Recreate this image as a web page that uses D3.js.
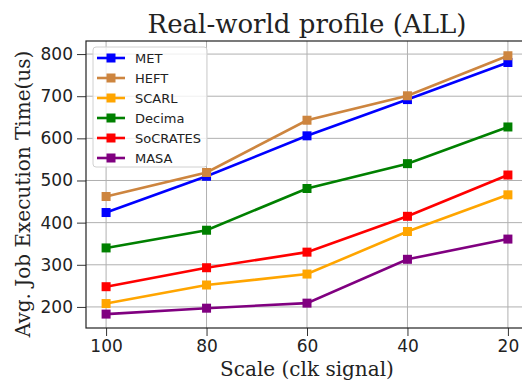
<!DOCTYPE html>
<html>
<head>
<meta charset="utf-8">
<script src="https://cdn.jsdelivr.net/npm/d3@7"></script>
<style>
  body { margin: 0; background: #fff; }
  svg { display: block; }
</style>
</head>
<body>
<div id="chart"></div>
<script>
// chart data
var scales = ["100", "80", "60", "40", "20"];
var names = ["MET", "HEFT", "SCARL", "Decima", "SoCRATES", "MASA"];
var colors = ["#0000ff", "#cd853f", "#ffa500", "#008000", "#ff0000", "#800080"];
var met = [424, 510, 606, 692, 780];
var heft = [462, 519, 643, 701, 796];
var scarl = [208, 252, 278, 379, 466];
var decima = [340, 382, 481, 540, 627];
var socrates = [248, 293, 330, 415, 513];
var masa = [183, 197, 209, 313, 361];
var yTicks = [200, 300, 400, 500, 600, 700, 800];

var series = [met, heft, scarl, decima, socrates, masa];

var W = 522, H = 383;
var svg = d3.select("#chart").append("svg")
    .attr("width", W).attr("height", H);

// plot area (right side runs past the picture edge, as in the reference)
var pL = 86, pR = 528, pT = 41, pB = 328;

var x = d3.scaleLinear().domain([-0.2, 4.2]).range([pL, pR]);
var y = d3.scaleLinear().domain([150, 831]).range([pB, pT]);

// grid
var grid = svg.append("g");
grid.selectAll(".gx").data(scales).enter().append("line")
    .attr("x1", function(d, i) { return x(i); })
    .attr("x2", function(d, i) { return x(i); })
    .attr("y1", pT).attr("y2", pB)
    .style("stroke", "#b0b0b0").style("stroke-width", 1);
grid.selectAll(".gy").data(yTicks).enter().append("line")
    .attr("x1", pL).attr("x2", pR)
    .attr("y1", function(d) { return y(d); })
    .attr("y2", function(d) { return y(d); })
    .style("stroke", "#b0b0b0").style("stroke-width", 1);

// lines + markers
var line = d3.line()
    .x(function(d, i) { return x(i); })
    .y(function(d) { return y(d); });

var ms = 9;
series.forEach(function(s, k) {
    var g = svg.append("g");
    g.append("path").datum(s)
        .attr("d", line)
        .style("fill", "none")
        .style("stroke", colors[k])
        .style("stroke-width", 2.6);
    g.selectAll("rect").data(s).enter().append("rect")
        .attr("x", function(d, i) { return x(i) - ms / 2; })
        .attr("y", function(d) { return y(d) - ms / 2; })
        .attr("width", ms).attr("height", ms)
        .style("fill", colors[k]);
});

// axes
var xAxis = d3.axisBottom(x)
    .tickValues(d3.range(scales.length))
    .tickFormat(function(d) { return scales[d]; })
    .tickSize(8).tickPadding(4);
var yAxis = d3.axisLeft(y)
    .tickValues(yTicks)
    .tickSize(9).tickPadding(4);

var gx = svg.append("g").attr("transform", "translate(0," + pB + ")").call(xAxis);
var gy = svg.append("g").attr("transform", "translate(" + pL + ",0)").call(yAxis);
[gx, gy].forEach(function(g) {
    g.select(".domain").remove();
    g.selectAll("text").style("font-family", "DejaVu Sans").style("font-size", "17px").style("fill", "#222");
    g.selectAll("line").style("stroke", "#333").style("stroke-width", 1);
});

// frame
svg.append("rect")
    .attr("x", pL).attr("y", pT)
    .attr("width", pR - pL).attr("height", pB - pT)
    .style("fill", "none").style("stroke", "#222").style("stroke-width", 1.2);

// title and labels
svg.append("text")
    .attr("x", (pL + pR) / 2).attr("y", 33)
    .attr("text-anchor", "middle")
    .style("font-family", "DejaVu Serif").style("font-size", "26px")
    .style("fill", "#222")
    .text("Real-world profile (ALL)");

svg.append("text")
    .attr("x", (pL + pR) / 2).attr("y", 376)
    .attr("text-anchor", "middle")
    .style("font-family", "DejaVu Serif").style("font-size", "20px")
    .style("fill", "#222")
    .text("Scale (clk signal)");

svg.append("text")
    .attr("transform", "translate(30,194) rotate(-90)")
    .attr("text-anchor", "middle")
    .style("font-family", "DejaVu Serif").style("font-size", "20px")
    .style("fill", "#222")
    .text("Avg. Job Execution Time(us)");

// legend
var lg = svg.append("g").attr("transform", "translate(93,47)");
lg.append("rect")
    .attr("width", 114).attr("height", 120).attr("rx", 3)
    .style("fill", "rgba(255,255,255,0.8)")
    .style("stroke", "#d0d0d0").style("stroke-width", 1);
var item = lg.selectAll(".item").data(names).enter().append("g")
    .attr("transform", function(d, i) { return "translate(0," + (11 + i * 20) + ")"; });
item.append("line")
    .attr("x1", 4).attr("x2", 32).attr("y1", 0).attr("y2", 0)
    .style("stroke", function(d, i) { return colors[i]; })
    .style("stroke-width", 2.6);
item.append("rect")
    .attr("x", 18 - ms / 2).attr("y", -ms / 2)
    .attr("width", ms).attr("height", ms)
    .style("fill", function(d, i) { return colors[i]; });
item.append("text")
    .attr("x", 42).attr("y", 0).attr("dy", "0.35em")
    .style("font-family", "DejaVu Sans").style("font-size", "13px")
    .style("fill", "#222")
    .text(function(d) { return d; });
</script>
</body>
</html>
